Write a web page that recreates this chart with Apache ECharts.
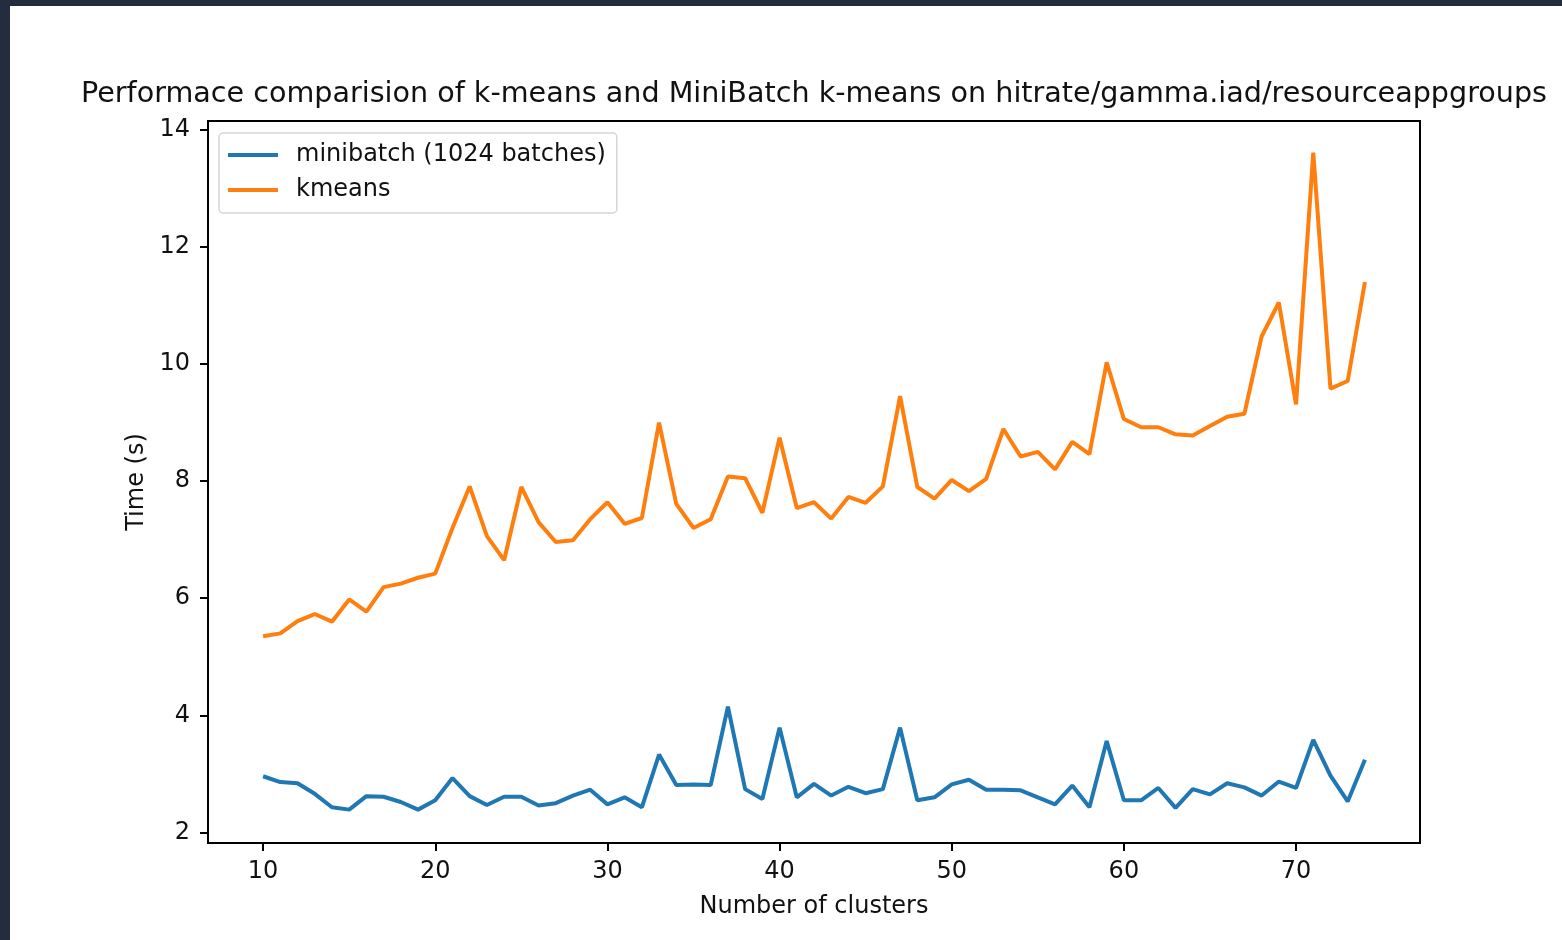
<!DOCTYPE html>
<html>
<head>
<meta charset="utf-8">
<script src="https://cdn.jsdelivr.net/npm/echarts@6/dist/echarts.min.js"></script>
<style>
html,body{margin:0;padding:0;background:#ffffff;}
#chart{width:1562px;height:940px;}
</style>
</head>
<body>
<div id="chart"></div>
<script>
// ---- data ----
const clusters = [10,11,12,13,14,15,16,17,18,19,20,21,22,23,24,25,26,27,28,29,30,31,32,33,34,35,36,37,38,39,40,41,42,43,44,45,46,47,48,49,50,51,52,53,54,55,56,57,58,59,60,61,62,63,64,65,66,67,68,69,70,71,72,73,74];
const minibatch = [2.96,2.86,2.84,2.66,2.43,2.39,2.62,2.61,2.52,2.39,2.55,2.93,2.62,2.47,2.61,2.61,2.46,2.50,2.63,2.73,2.48,2.60,2.43,3.33,2.81,2.82,2.81,4.15,2.74,2.57,3.79,2.60,2.83,2.63,2.78,2.67,2.74,3.79,2.55,2.60,2.82,2.90,2.73,2.73,2.72,2.60,2.48,2.80,2.43,3.56,2.55,2.55,2.76,2.42,2.74,2.65,2.84,2.77,2.63,2.87,2.76,3.58,2.97,2.53,3.24];
const kmeans = [5.35,5.40,5.61,5.73,5.60,5.98,5.77,6.19,6.25,6.35,6.42,7.20,7.91,7.06,6.65,7.90,7.30,6.96,6.99,7.35,7.64,7.27,7.37,9.00,7.61,7.20,7.35,8.08,8.05,7.46,8.74,7.54,7.64,7.36,7.73,7.63,7.91,9.45,7.90,7.70,8.02,7.83,8.04,8.89,8.42,8.50,8.20,8.67,8.46,10.03,9.06,8.92,8.92,8.80,8.78,8.94,9.10,9.15,10.47,11.05,9.31,13.61,9.58,9.71,11.40];
const xTicks = [10,20,30,40,50,60,70];
const yTicks = [2,4,6,8,10,12,14];
const seriesNames = ['minibatch (1024 batches)','kmeans'];
const titleText = 'Performace comparision of k-means and MiniBatch k-means on hitrate/gamma.iad/resourceappgroups';

const FONT = 'DejaVu Sans';
const chart = echarts.init(document.getElementById('chart'), null, {renderer:'canvas'});
const pair = (ys) => clusters.map((x,i)=>[x, ys[i]]);

chart.setOption({
  backgroundColor:'#ffffff',
  animation:false,
  graphic:[
    {type:'rect', shape:{x:0,y:0,width:1562,height:6}, style:{fill:'#232d3d'}, z:100},
    {type:'rect', shape:{x:0,y:0,width:10,height:940}, style:{fill:'#232d3d'}, z:100}
  ],
  title:{
    text:titleText,
    left:809, top:75, textAlign:'center',
    textStyle:{fontFamily:FONT, fontSize:28.6, fontWeight:'normal', color:'#111'}
  },
  legend:{
    orient:'vertical',
    left:219, top:133,
    padding:[8,11,9,9],
    itemGap:7,
    itemWidth:50, itemHeight:4,
    icon:'rect',
    backgroundColor:'rgba(255,255,255,0.8)',
    borderColor:'#d6d6d6', borderWidth:1.5, borderRadius:4,
    textStyle:{fontFamily:FONT, fontSize:24, color:'#111', padding:[0,0,0,13], lineHeight:28},
    data:seriesNames
  },
  grid:{
    left:208, top:121, width:1212, height:722,
    show:true, borderColor:'#000', borderWidth:2, backgroundColor:'transparent'
  },
  xAxis:{
    type:'value', min:6.8, max:77.2,
    name:'Number of clusters', nameLocation:'middle', nameGap:52,
    nameTextStyle:{fontFamily:FONT, fontSize:24, color:'#111'},
    axisLine:{show:false},
    splitLine:{show:false},
    axisTick:{show:true, length:8, lineStyle:{color:'#000', width:2}, customValues:xTicks},
    axisLabel:{fontFamily:FONT, fontSize:24, color:'#111', margin:17, customValues:xTicks}
  },
  yAxis:{
    type:'value', min:1.82, max:14.15,
    name:'Time (s)', nameLocation:'middle', nameGap:59, nameRotate:90,
    nameTextStyle:{fontFamily:FONT, fontSize:24, color:'#111'},
    axisLine:{show:false},
    splitLine:{show:false},
    axisTick:{show:true, length:8, lineStyle:{color:'#000', width:2}, customValues:yTicks},
    axisLabel:{fontFamily:FONT, fontSize:24, color:'#111', margin:18, customValues:yTicks}
  },
  series:[
    {name:seriesNames[0], type:'line', data:pair(minibatch), showSymbol:false, symbol:'none',
     lineStyle:{color:'#1f77b4', width:4}, itemStyle:{color:'#1f77b4'}},
    {name:seriesNames[1], type:'line', data:pair(kmeans), showSymbol:false, symbol:'none',
     lineStyle:{color:'#ff7f0e', width:4}, itemStyle:{color:'#ff7f0e'}}
  ]
});
</script>
</body>
</html>
